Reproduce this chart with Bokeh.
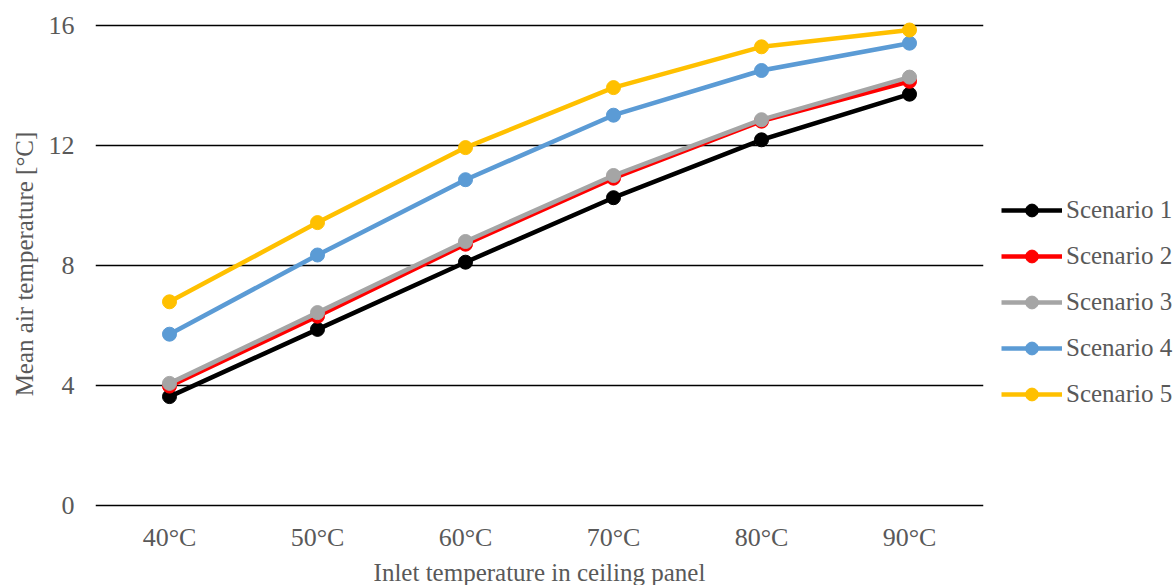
from bokeh.plotting import figure
from bokeh.models import FactorRange, Range1d, Legend, LegendItem, FixedTicker
from bokeh.embed import file_html
from bokeh.resources import INLINE

categories = ["40°C", "50°C", "60°C", "70°C", "80°C", "90°C"]
scenario1 = [3.63, 5.87, 8.11, 10.26, 12.19, 13.71]
scenario2 = [3.98, 6.31, 8.71, 10.91, 12.81, 14.14]
scenario3 = [4.07, 6.43, 8.80, 11.00, 12.86, 14.28]
scenario4 = [5.71, 8.35, 10.86, 13.01, 14.50, 15.41]
scenario5 = [6.79, 9.43, 11.93, 13.93, 15.29, 15.85]
series_names = ["Scenario 1", "Scenario 2", "Scenario 3", "Scenario 4", "Scenario 5"]
series_values = [scenario1, scenario2, scenario3, scenario4, scenario5]
colors = ["#000000", "#FF0000", "#A5A5A5", "#5B9BD5", "#FFC000"]
y_ticks = [0, 4, 8, 12, 16]

FONT = "Liberation Serif"
TXT = "#595959"

p = figure(
    x_range=FactorRange(*categories, range_padding=0),
    y_range=Range1d(-0.1, 16.2),
    frame_width=888, frame_height=489,
    min_border_left=95, min_border_top=19, min_border_bottom=77, min_border_right=193,
    output_backend="svg", toolbar_location=None,
)
p.outline_line_color = None
p.background_fill_color = "white"
p.border_fill_color = "white"

items = []
for name, vals, c in zip(series_names, series_values, colors):
    l = p.line(categories, vals, line_color=c, line_width=4.5)
    s = p.scatter(categories, vals, size=14, fill_color=c, line_color=c)
    items.append(LegendItem(label=name, renderers=[l, s]))

# axes
p.yaxis.ticker = FixedTicker(ticks=y_ticks)
for ax in (p.xaxis[0], p.yaxis[0]):
    ax.axis_line_color = None
    ax.major_tick_line_color = None
    ax.minor_tick_line_color = None
    ax.major_label_text_font = FONT
    ax.major_label_text_font_size = "26px"
    ax.major_label_text_color = TXT
    ax.axis_label_text_font = FONT
    ax.axis_label_text_font_size = "25px"
    ax.axis_label_text_color = TXT
    ax.axis_label_text_font_style = "normal"

p.yaxis.axis_label = "Mean air temperature [°C]"
p.yaxis.major_label_standoff = 15
p.yaxis.axis_label_standoff = 8
p.xaxis.axis_label = "Inlet temperature in ceiling panel"
p.xaxis.major_label_standoff = 8
p.xaxis.axis_label_standoff = 4

p.xgrid.grid_line_color = None
p.ygrid.grid_line_color = "#000000"
p.ygrid.grid_line_width = 1.5

legend = Legend(
    items=items, location=(18, 98), orientation="vertical",
    glyph_width=61, glyph_height=32, label_height=32, label_standoff=4, spacing=14,
    padding=0, margin=0, border_line_alpha=0, background_fill_alpha=0,
    label_text_font=FONT, label_text_font_size="25px", label_text_color=TXT,
)
p.add_layout(legend, "right")

open("out.html", "w").write(file_html(p, INLINE))
